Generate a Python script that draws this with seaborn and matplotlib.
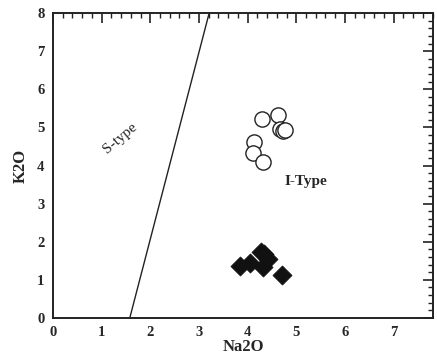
import matplotlib
matplotlib.use("Agg")
import matplotlib.pyplot as plt
import seaborn as sns
import pandas as pd
from matplotlib.ticker import MultipleLocator

sns.set_style("white")
plt.rcParams['font.family'] = ['Liberation Serif', 'DejaVu Serif']

# I-type (open circles)
na_i = [4.29, 4.62, 4.67, 4.72, 4.76, 4.14, 4.12, 4.31]
k_i = [5.23, 5.32, 4.95, 4.90, 4.93, 4.63, 4.32, 4.10]
# filled diamonds
na_d = [3.85, 4.05, 4.28, 4.33, 4.42, 4.31, 4.70]
k_d = [1.37, 1.45, 1.72, 1.68, 1.55, 1.33, 1.12]
# S-type / I-type boundary line
line_x = [1.58, 3.21]
line_y = [0.0, 8.0]

fig = plt.figure(figsize=(4.37, 3.56), dpi=100)
ax = fig.add_axes([0.121, 0.107, 0.870, 0.856])

sns.lineplot(x=line_x, y=line_y, ax=ax, color="#222222", lw=1.0)
sns.scatterplot(x=na_i, y=k_i, ax=ax, marker="o", s=120, facecolor="white",
                edgecolor="#222222", linewidth=1.0, zorder=3)
sns.scatterplot(x=na_d, y=k_d, ax=ax, marker="D", s=95, color="#111111",
                edgecolor="#111111", linewidth=0.5, zorder=3)

ax.set_xlim(0, 7.81)
ax.set_ylim(0, 8)
ax.xaxis.set_major_locator(MultipleLocator(1))
ax.xaxis.set_minor_locator(MultipleLocator(0.2))
ax.yaxis.set_major_locator(MultipleLocator(1))
ax.yaxis.set_minor_locator(MultipleLocator(0.2))
ax.set_xticks(range(0, 8))
ax.tick_params(which="both", direction="in", top=True, right=True,
               color="#222222", labelsize=10.5, pad=6)
ax.tick_params(which="major", length=7, width=1.2)
ax.tick_params(which="minor", length=3.5, width=1.0)
for lbl in ax.get_xticklabels() + ax.get_yticklabels():
    lbl.set_fontweight("bold")
for sp in ax.spines.values():
    sp.set_linewidth(1.4)
    sp.set_color("#222222")

ax.set_xlabel("Na2O", fontsize=12, fontweight="bold", labelpad=0)
ax.set_ylabel("K2O", fontsize=12, fontweight="bold", labelpad=6)

ax.text(1.38, 4.72, "S-type", rotation=40, fontsize=11, ha="center", va="center")
ax.text(5.2, 3.58, "I-Type", fontsize=11, fontweight="bold", ha="center", va="center")

fig.savefig("out.png", dpi=100)
